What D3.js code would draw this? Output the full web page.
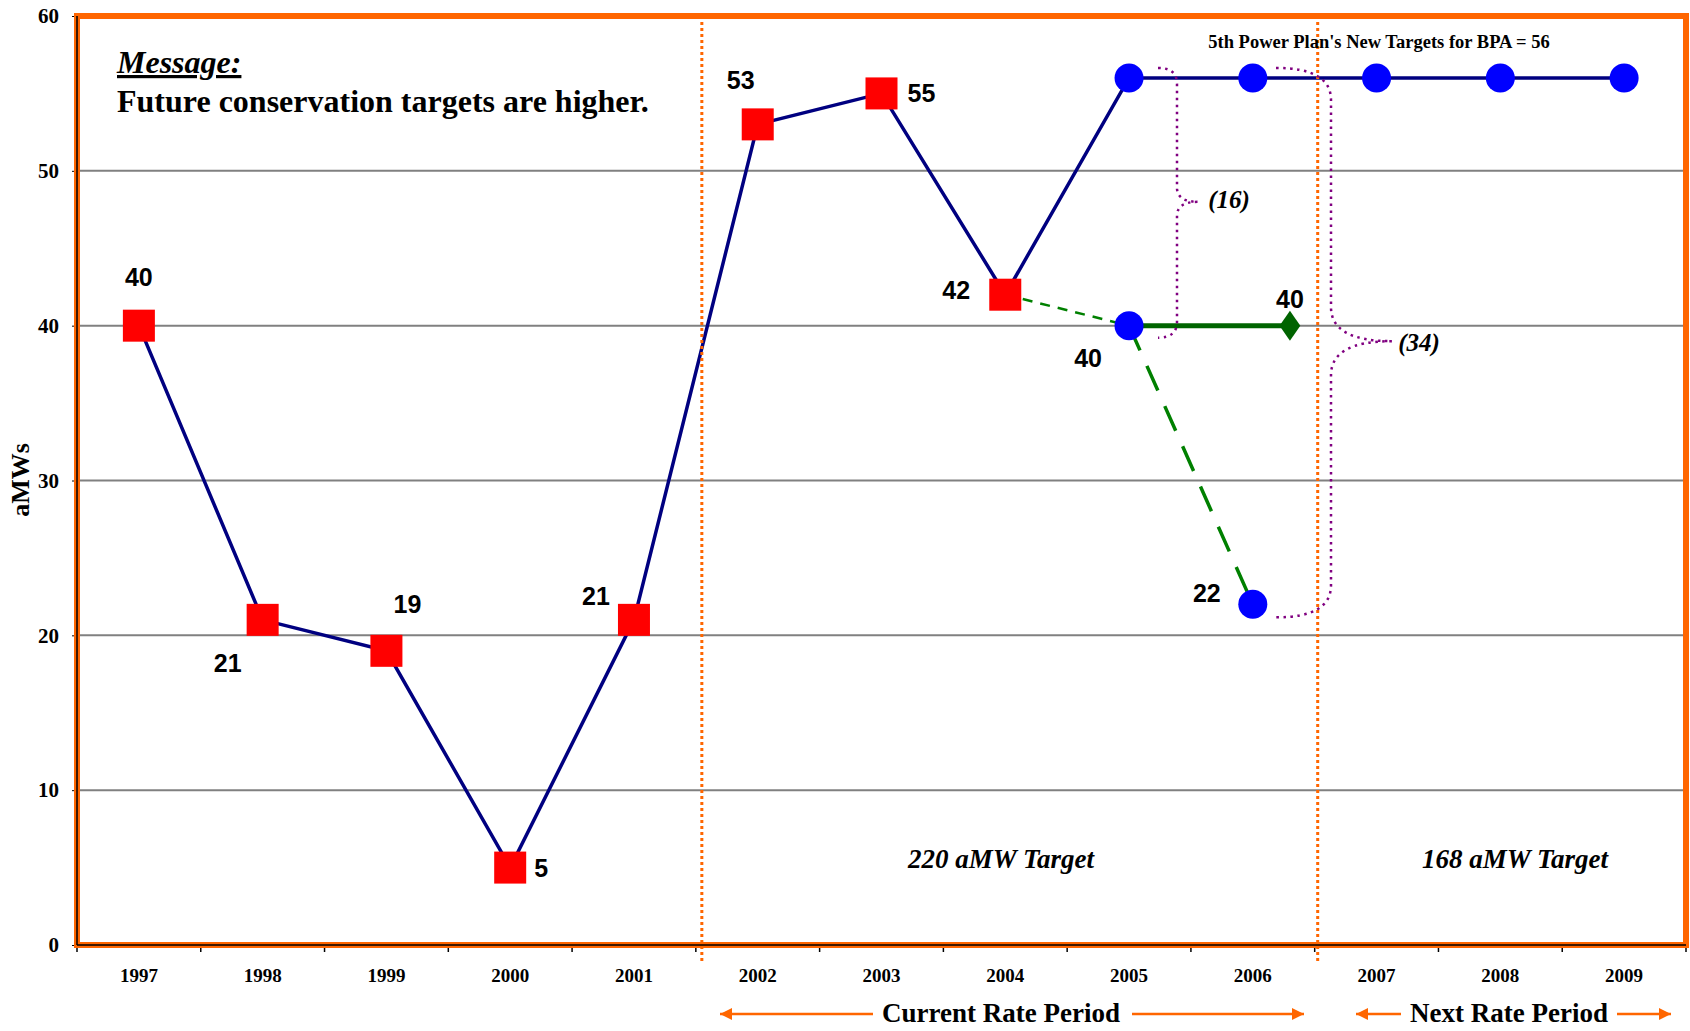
<!DOCTYPE html>
<html>
<head>
<meta charset="utf-8">
<script src="https://cdn.jsdelivr.net/npm/d3@7"></script>
<style>
  body { margin: 0; background: #fff; }
  svg { display: block; }
</style>
</head>
<body>
<svg id="chart" width="1690" height="1031"></svg>
<script>
// data
var years = [1997, 1998, 1999, 2000, 2001, 2002, 2003, 2004, 2005, 2006, 2007, 2008, 2009];
var actualYears = [1997, 1998, 1999, 2000, 2001, 2002, 2003, 2004];
var actual = [40, 21, 19, 5, 21, 53, 55, 42];
var targetYears = [2005, 2006, 2007, 2008, 2009];
var target = [56, 56, 56, 56, 56];
var lowYears = [2005, 2006];
var low = [40, 22];
var flatValue = [40];
var yTicks = [0, 10, 20, 30, 40, 50, 60];

var pLeft = 77, pRight = 1686, pTop = 16, pBottom = 945;
var svg = d3.select("#chart");

var band = d3.scaleBand().domain(years).range([pLeft, pRight]);
var y = d3.scaleLinear().domain([0, 60]).range([pBottom, pTop]);
function cx(yr) { return band(yr) + band.bandwidth() / 2; }

var serif = "'Liberation Serif', 'Times New Roman', serif";
var sans = "'Liberation Sans', Arial, sans-serif";
var orange = "#FF6600";

// grid lines
svg.append("g")
    .selectAll("line")
    .data(yTicks.filter(function(d) { return d > 0 && d < 60; }))
    .enter().append("line")
    .attr("x1", pLeft).attr("x2", pRight)
    .attr("y1", function(d) { return y(d); })
    .attr("y2", function(d) { return y(d); })
    .attr("stroke", "#808080")
    .attr("stroke-width", 2);

// y axis
var yAxis = svg.append("g")
    .attr("transform", "translate(" + pLeft + ",0)")
    .call(d3.axisLeft(y).tickValues(yTicks).tickSize(5).tickPadding(13).tickFormat(d3.format("d")));
yAxis.select(".domain").remove();
yAxis.selectAll("text")
    .attr("font-family", serif).attr("font-weight", "bold")
    .attr("font-size", 21).attr("fill", "#000");

// x axis labels
var xAxis = svg.append("g")
    .attr("transform", "translate(0," + pBottom + ")")
    .call(d3.axisBottom(band).tickSize(0).tickPadding(24));
xAxis.select(".domain").remove();
xAxis.selectAll("text")
    .attr("font-family", serif).attr("font-weight", "bold")
    .attr("font-size", 19).attr("fill", "#000");

// x boundary ticks
svg.append("g")
    .selectAll("line")
    .data(years.concat([null]))
    .enter().append("line")
    .attr("x1", function(d, i) { return pLeft + i * band.bandwidth(); })
    .attr("x2", function(d, i) { return pLeft + i * band.bandwidth(); })
    .attr("y1", pBottom).attr("y2", pBottom + 7)
    .attr("stroke", "#000").attr("stroke-width", 1.5);

// y axis title
svg.append("text")
    .attr("transform", "translate(29,480) rotate(-90)")
    .attr("text-anchor", "middle")
    .attr("font-family", serif).attr("font-weight", "bold").attr("font-size", 26)
    .text("aMWs");

// lines
var line = d3.line().x(function(d) { return cx(d[0]); }).y(function(d) { return y(d[1]); });
var mainPts = d3.zip(actualYears, actual).concat(d3.zip(targetYears, target));
svg.append("path")
    .attr("d", line(mainPts))
    .attr("fill", "none").attr("stroke", "#000080").attr("stroke-width", 3.5);

var lastActual = [actualYears[7], actual[7]];
svg.append("path")
    .attr("d", line([lastActual, [lowYears[0], low[0]]]))
    .attr("fill", "none").attr("stroke", "#008000").attr("stroke-width", 2.5)
    .attr("stroke-dasharray", "10,8");
svg.append("path")
    .attr("d", line([[lowYears[0], low[0]], [lowYears[1], low[1]]]))
    .attr("fill", "none").attr("stroke", "#008000").attr("stroke-width", 3.5)
    .attr("stroke-dasharray", "27,17");

var diamondX = cx(2006) + 0.3 * band.bandwidth();
svg.append("line")
    .attr("x1", cx(lowYears[0])).attr("y1", y(low[0]))
    .attr("x2", diamondX).attr("y2", y(flatValue[0]))
    .attr("stroke", "#006400").attr("stroke-width", 5);

// rate period dividers
[2002, 2007].forEach(function(yr, i) {
    var xx = band(yr) + (i == 0 ? 6 : 3);
    svg.append("line")
        .attr("x1", xx).attr("x2", xx)
        .attr("y1", pTop).attr("y2", pBottom + 16)
        .attr("stroke", orange).attr("stroke-width", 3)
        .attr("stroke-dasharray", "3,3");
});

// braces
function brace(sx, vx, tx, ty, my, by, r, r2) {
    return "M" + sx + "," + ty +
        " Q" + vx + "," + ty + " " + vx + "," + (ty + r) +
        " L" + vx + "," + (my - r2) +
        " Q" + vx + "," + my + " " + tx + "," + my +
        " Q" + vx + "," + my + " " + vx + "," + (my + r2) +
        " L" + vx + "," + (by - r) +
        " Q" + vx + "," + by + " " + sx + "," + by;
}
svg.append("path")
    .attr("d", brace(1158, 1177, 1198, y(56) - 10, (y(56) + y(40)) / 2, y(40) + 12, 16, 14))
    .attr("fill", "none").attr("stroke", "#800080").attr("stroke-width", 2.5)
    .attr("stroke-dasharray", "2.5,4.5");
svg.append("path")
    .attr("d", brace(1276, 1331, 1392, y(56) - 10, (y(56) + y(22)) / 2, y(22) + 13, 32, 34))
    .attr("fill", "none").attr("stroke", "#800080").attr("stroke-width", 2.5)
    .attr("stroke-dasharray", "2.5,4.5");

// markers
svg.append("g").selectAll("rect")
    .data(d3.zip(actualYears, actual))
    .enter().append("rect")
    .attr("x", function(d) { return cx(d[0]) - 16; })
    .attr("y", function(d) { return y(d[1]) - 16; })
    .attr("width", 32).attr("height", 32)
    .attr("fill", "#FF0000");

svg.append("g").selectAll("circle")
    .data(d3.zip(targetYears, target).concat(d3.zip(lowYears, low)))
    .enter().append("circle")
    .attr("cx", function(d) { return cx(d[0]); })
    .attr("cy", function(d) { return y(d[1]); })
    .attr("r", 14.5)
    .attr("fill", "#0000FF");

svg.append("path")
    .attr("d", d3.symbol().type(d3.symbolDiamond).size(260)())
    .attr("transform", "translate(" + diamondX + "," + y(flatValue[0]) + ") scale(1.2,1)")
    .attr("fill", "#006400");

// value labels
var offsets = [[0, -49], [-35, 43], [21, -47], [31, 0], [-38, -24], [-17, -44], [40, 0], [-49, -5]];
svg.append("g").selectAll("text")
    .data(d3.zip(actualYears, actual))
    .enter().append("text")
    .attr("x", function(d, i) { return cx(d[0]) + offsets[i][0]; })
    .attr("y", function(d, i) { return y(d[1]) + offsets[i][1]; })
    .attr("dy", "0.36em").attr("text-anchor", "middle")
    .attr("font-family", sans).attr("font-weight", "bold").attr("font-size", 25)
    .text(function(d) { return d[1]; });

var lowOffsets = [[-41, 32], [-46, -11]];
svg.append("g").selectAll("text")
    .data(d3.zip(lowYears, low))
    .enter().append("text")
    .attr("x", function(d, i) { return cx(d[0]) + lowOffsets[i][0]; })
    .attr("y", function(d, i) { return y(d[1]) + lowOffsets[i][1]; })
    .attr("dy", "0.36em").attr("text-anchor", "middle")
    .attr("font-family", sans).attr("font-weight", "bold").attr("font-size", 25)
    .text(function(d) { return d[1]; });

svg.append("text")
    .attr("x", diamondX).attr("y", y(flatValue[0]) - 27)
    .attr("dy", "0.36em").attr("text-anchor", "middle")
    .attr("font-family", sans).attr("font-weight", "bold").attr("font-size", 25)
    .text(flatValue[0]);

// annotations
svg.append("text")
    .attr("x", 117).attr("y", 73)
    .attr("font-family", serif).attr("font-weight", "bold").attr("font-style", "italic")
    .attr("font-size", 32).attr("text-decoration", "underline")
    .text("Message:");
svg.append("text")
    .attr("x", 117).attr("y", 112)
    .attr("font-family", serif).attr("font-weight", "bold")
    .attr("font-size", 32)
    .text("Future conservation targets are higher.");
svg.append("text")
    .attr("x", 1379).attr("y", 48).attr("text-anchor", "middle")
    .attr("font-family", serif).attr("font-weight", "bold").attr("font-size", 18.5)
    .text("5th Power Plan's New Targets for BPA = 56");

function italicLabel(x, yy, size, txt) {
    svg.append("text")
        .attr("x", x).attr("y", yy).attr("text-anchor", "middle")
        .attr("font-family", serif).attr("font-weight", "bold").attr("font-style", "italic")
        .attr("font-size", size).text(txt);
}
italicLabel(1229, 208, 25, "(16)");
italicLabel(1419, 351, 25, "(34)");
italicLabel(1001, 868, 27, "220 aMW Target");
italicLabel(1515, 868, 27, "168 aMW Target");

// plot frame
svg.append("rect")
    .attr("x", pLeft).attr("y", pTop)
    .attr("width", pRight - pLeft).attr("height", pBottom - pTop)
    .attr("fill", "none").attr("stroke", orange).attr("stroke-width", 6);
svg.append("line")
    .attr("x1", pLeft).attr("x2", pLeft).attr("y1", pTop).attr("y2", pBottom)
    .attr("stroke", "#000").attr("stroke-width", 1.5);
svg.append("line")
    .attr("x1", pLeft).attr("x2", pRight).attr("y1", pBottom).attr("y2", pBottom)
    .attr("stroke", "#000").attr("stroke-width", 1.5);

// rate period arrows
var defs = svg.append("defs");
defs.append("marker")
    .attr("id", "arr").attr("viewBox", "0 0 10 10")
    .attr("refX", 10).attr("refY", 5)
    .attr("markerWidth", 16).attr("markerHeight", 12)
    .attr("markerUnits", "userSpaceOnUse")
    .attr("orient", "auto")
    .append("path").attr("d", "M0,0 L10,5 L0,10 Z").attr("fill", orange);

function arrow(x1, x2, yy) {
    svg.append("line")
        .attr("x1", x1).attr("x2", x2).attr("y1", yy).attr("y2", yy)
        .attr("stroke", orange).attr("stroke-width", 2.5)
        .attr("marker-end", "url(#arr)");
}
arrow(873, 720, 1014);
arrow(1132, 1304, 1014);
arrow(1401, 1356, 1014);
arrow(1617, 1671, 1014);

svg.append("text")
    .attr("x", 1001).attr("y", 1022).attr("text-anchor", "middle")
    .attr("font-family", serif).attr("font-weight", "bold").attr("font-size", 27)
    .text("Current Rate Period");
svg.append("text")
    .attr("x", 1509).attr("y", 1022).attr("text-anchor", "middle")
    .attr("font-family", serif).attr("font-weight", "bold").attr("font-size", 27)
    .text("Next Rate Period");
</script>
</body>
</html>
